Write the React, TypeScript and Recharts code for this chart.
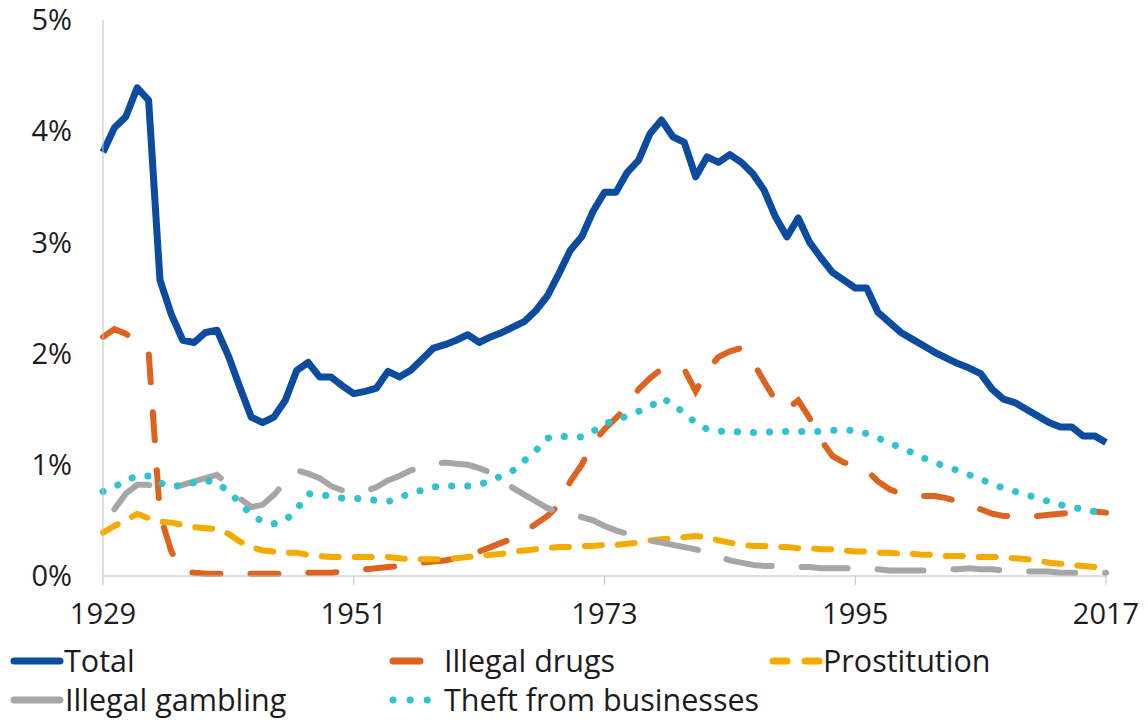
import { LineChart, Line, XAxis, YAxis, Legend } from 'recharts'

const years = [
  1929, 1930, 1931, 1932, 1933, 1934, 1935, 1936, 1937, 1938,
  1939, 1940, 1941, 1942, 1943, 1944, 1945, 1946, 1947, 1948,
  1949, 1950, 1951, 1952, 1953, 1954, 1955, 1956, 1957, 1958,
  1959, 1960, 1961, 1962, 1963, 1964, 1965, 1966, 1967, 1968,
  1969, 1970, 1971, 1972, 1973, 1974, 1975, 1976, 1977, 1978,
  1979, 1980, 1981, 1982, 1983, 1984, 1985, 1986, 1987, 1988,
  1989, 1990, 1991, 1992, 1993, 1994, 1995, 1996, 1997, 1998,
  1999, 2000, 2001, 2002, 2003, 2004, 2005, 2006, 2007, 2008,
  2009, 2010, 2011, 2012, 2013, 2014, 2015, 2016, 2017,
]

// share of GDP, percent
const total = [
  3.81, 4.03, 4.13, 4.39, 4.28, 2.66, 2.35, 2.12, 2.10, 2.19,
  2.21, 1.98, 1.70, 1.43, 1.38, 1.43, 1.58, 1.85, 1.92, 1.79,
  1.79, 1.71, 1.64, 1.66, 1.69, 1.84, 1.79, 1.85, 1.95, 2.05,
  2.08, 2.12, 2.17, 2.10, 2.15, 2.19, 2.24, 2.29, 2.39, 2.52,
  2.72, 2.93, 3.05, 3.28, 3.45, 3.45, 3.63, 3.74, 3.98, 4.10,
  3.95, 3.90, 3.59, 3.77, 3.72, 3.79, 3.72, 3.62, 3.47, 3.23,
  3.05, 3.22, 3.00, 2.86, 2.73, 2.66, 2.59, 2.59, 2.37, 2.28,
  2.19, 2.13, 2.07, 2.01, 1.96, 1.91, 1.87, 1.82, 1.68, 1.59,
  1.56, 1.50, 1.44, 1.38, 1.34, 1.34, 1.26, 1.26, 1.20,
]

const drugs = [
  2.15, 2.22, 2.18, 2.10, 2.02, 0.55, 0.22, 0.04, 0.03, 0.02,
  0.02, 0.02, 0.02, 0.02, 0.02, 0.02, 0.02, 0.02, 0.03, 0.03,
  0.03, 0.04, 0.05, 0.06, 0.07, 0.08, 0.09, 0.10, 0.12, 0.13,
  0.14, 0.16, 0.19, 0.22, 0.26, 0.30, 0.34, 0.40, 0.47, 0.54,
  0.64, 0.85, 1.00, 1.20, 1.32, 1.42, 1.52, 1.68, 1.78, 1.86,
  1.87, 1.86, 1.66, 1.85, 1.97, 2.02, 2.05, 1.93, 1.75, 1.58,
  1.50, 1.58, 1.42, 1.22, 1.08, 1.02, 1.00, 0.95, 0.85, 0.78,
  0.74, 0.73, 0.72, 0.72, 0.70, 0.67, 0.64, 0.60, 0.56, 0.54,
  0.54, 0.54, 0.54, 0.55, 0.56, 0.57, 0.58, 0.58, 0.57,
]

const prostitution = [
  0.39, 0.45, 0.50, 0.56, 0.52, 0.49, 0.48, 0.46, 0.44, 0.43,
  0.42, 0.38, 0.31, 0.26, 0.23, 0.22, 0.21, 0.21, 0.19, 0.18,
  0.17, 0.17, 0.17, 0.17, 0.17, 0.17, 0.16, 0.15, 0.15, 0.15,
  0.15, 0.16, 0.17, 0.18, 0.19, 0.20, 0.22, 0.23, 0.24, 0.25,
  0.26, 0.26, 0.27, 0.27, 0.28, 0.28, 0.29, 0.30, 0.32, 0.33,
  0.34, 0.35, 0.36, 0.35, 0.32, 0.30, 0.28, 0.27, 0.27, 0.26,
  0.26, 0.25, 0.25, 0.24, 0.24, 0.23, 0.22, 0.22, 0.21, 0.21,
  0.20, 0.20, 0.19, 0.19, 0.18, 0.18, 0.18, 0.17, 0.17, 0.17,
  0.16, 0.15, 0.14, 0.12, 0.11, 0.10, 0.09, 0.08, 0.08,
]

const gambling = [
  null, 0.60, 0.74, 0.82, 0.82, 0.77, 0.79, 0.82, 0.85, 0.88,
  0.91, 0.82, 0.70, 0.62, 0.64, 0.73, 0.85, 0.95, 0.92, 0.88,
  0.81, 0.77, 0.75, 0.76, 0.80, 0.86, 0.90, 0.95, 0.98, 1.01,
  1.02, 1.01, 1.00, 0.97, 0.93, 0.86, 0.79, 0.73, 0.67, 0.61,
  0.57, 0.55, 0.53, 0.50, 0.45, 0.41, 0.38, 0.35, 0.32, 0.30,
  0.28, 0.26, 0.24, 0.21, 0.18, 0.14, 0.12, 0.10, 0.09, 0.09,
  0.08, 0.08, 0.08, 0.07, 0.07, 0.07, 0.07, 0.06, 0.06, 0.05,
  0.05, 0.05, 0.05, 0.05, 0.06, 0.06, 0.07, 0.06, 0.06, 0.05,
  0.05, 0.04, 0.04, 0.04, 0.03, 0.03, 0.03, 0.03, 0.03,
]

const theft = [
  0.76, 0.80, 0.86, 0.90, 0.90, 0.84, 0.80, 0.82, 0.84, 0.86,
  0.84, 0.76, 0.66, 0.55, 0.49, 0.47, 0.50, 0.60, 0.74, 0.73,
  0.72, 0.70, 0.70, 0.69, 0.68, 0.67, 0.70, 0.75, 0.77, 0.80,
  0.81, 0.81, 0.81, 0.82, 0.86, 0.90, 0.95, 1.04, 1.13, 1.24,
  1.26, 1.25, 1.25, 1.30, 1.37, 1.40, 1.44, 1.48, 1.52, 1.60,
  1.55, 1.46, 1.38, 1.32, 1.30, 1.31, 1.29, 1.29, 1.29, 1.30,
  1.30, 1.30, 1.30, 1.30, 1.31, 1.31, 1.31, 1.28, 1.24, 1.20,
  1.15, 1.11, 1.06, 1.02, 0.98, 0.95, 0.91, 0.87, 0.83, 0.79,
  0.76, 0.73, 0.70, 0.67, 0.64, 0.62, 0.60, 0.58, 0.57,
]

const xTicks = [1929, 1951, 1973, 1995, 2017]
const yTicks = [0, 1, 2, 3, 4, 5]

const data = years.map((year, i) => ({
  year,
  total: total[i],
  drugs: drugs[i],
  prostitution: prostitution[i],
  gambling: gambling[i],
  theft: theft[i],
}))

const FONT = "'Open Sans', sans-serif"
const TEXT = '#1c1c1c'
const AXIS = '#bfbfbf'

const COLORS = {
  total: '#0b4c9f',
  drugs: '#dc6420',
  prostitution: '#f3ab00',
  gambling: '#a6a6a6',
  theft: '#30c3cf',
}

function ChartLegend() {
  const text = { fontFamily: FONT, fontSize: 30.5, fill: TEXT }
  const row1 = 21
  const row2 = 60
  return (
    <svg width={1148} height={81} style={{ display: 'block', overflow: 'visible' }}>
      <line x1={14} x2={60} y1={row1} y2={row1} stroke={COLORS.total} strokeWidth={7} strokeLinecap="round" />
      <text x={64} y={row1} dy="0.35em" {...text}>Total</text>

      <line x1={393} x2={420} y1={row1} y2={row1} stroke={COLORS.drugs} strokeWidth={7} strokeLinecap="round" />
      <text x={444} y={row1} dy="0.35em" {...text}>Illegal drugs</text>

      <line x1={773} x2={819} y1={row1} y2={row1} stroke={COLORS.prostitution} strokeWidth={7} strokeLinecap="round" strokeDasharray="14 18" />
      <text x={823} y={row1} dy="0.35em" {...text}>Prostitution</text>

      <line x1={14} x2={60} y1={row2} y2={row2} stroke={COLORS.gambling} strokeWidth={7} strokeLinecap="round" />
      <text x={65} y={row2} dy="0.35em" {...text}>Illegal gambling</text>

      <line x1={393} x2={430} y1={row2} y2={row2} stroke={COLORS.theft} strokeWidth={7} strokeLinecap="round" strokeDasharray="0.1 17" />
      <text x={444} y={row2} dy="0.35em" {...text}>Theft from businesses</text>
    </svg>
  )
}

export default function App() {
  return (
    <div style={{ position: 'absolute', left: 0, top: 0, background: '#fff' }}>
      <LineChart width={1148} height={721} data={data} margin={{ top: 20, right: 42, bottom: 0, left: 0 }}>
        <XAxis
          dataKey="year"
          type="number"
          domain={[1929, 2017]}
          ticks={xTicks}
          stroke={AXIS}
          tickSize={9}
          tickMargin={18}
          height={64}
          tick={{ fontFamily: FONT, fontSize: 29, fill: TEXT }}
        />
        <YAxis
          domain={[0, 5]}
          ticks={yTicks}
          tickFormatter={(v: number) => `${v}%`}
          width={103}
          stroke={AXIS}
          tickLine={false}
          tickSize={0}
          tickMargin={31}
          tick={{ fontFamily: FONT, fontSize: 29, fill: TEXT }}
        />
        <Legend
          verticalAlign="bottom"
          align="left"
          content={<ChartLegend />}
          wrapperStyle={{ left: 0, bottom: 0, width: 1148, height: 81 }}
        />
        <Line type="linear" dataKey="total" name="Total" stroke={COLORS.total} strokeWidth={7} dot={false} activeDot={false} strokeLinejoin="round" isAnimationActive={false} />
        <Line type="linear" dataKey="drugs" name="Illegal drugs" stroke={COLORS.drugs} strokeWidth={6} strokeDasharray="28 30" strokeLinecap="round" dot={false} activeDot={false} isAnimationActive={false} />
        <Line type="linear" dataKey="prostitution" name="Prostitution" stroke={COLORS.prostitution} strokeWidth={6} strokeDasharray="17 16" strokeLinecap="round" dot={false} activeDot={false} isAnimationActive={false} />
        <Line type="linear" dataKey="gambling" name="Illegal gambling" stroke={COLORS.gambling} strokeWidth={6} strokeDasharray="46 30" strokeLinecap="round" dot={false} activeDot={false} isAnimationActive={false} />
        <Line type="linear" dataKey="theft" name="Theft from businesses" stroke={COLORS.theft} strokeWidth={7} strokeDasharray="0.1 16" strokeLinecap="round" dot={false} activeDot={false} isAnimationActive={false} />
      </LineChart>
    </div>
  )
}
